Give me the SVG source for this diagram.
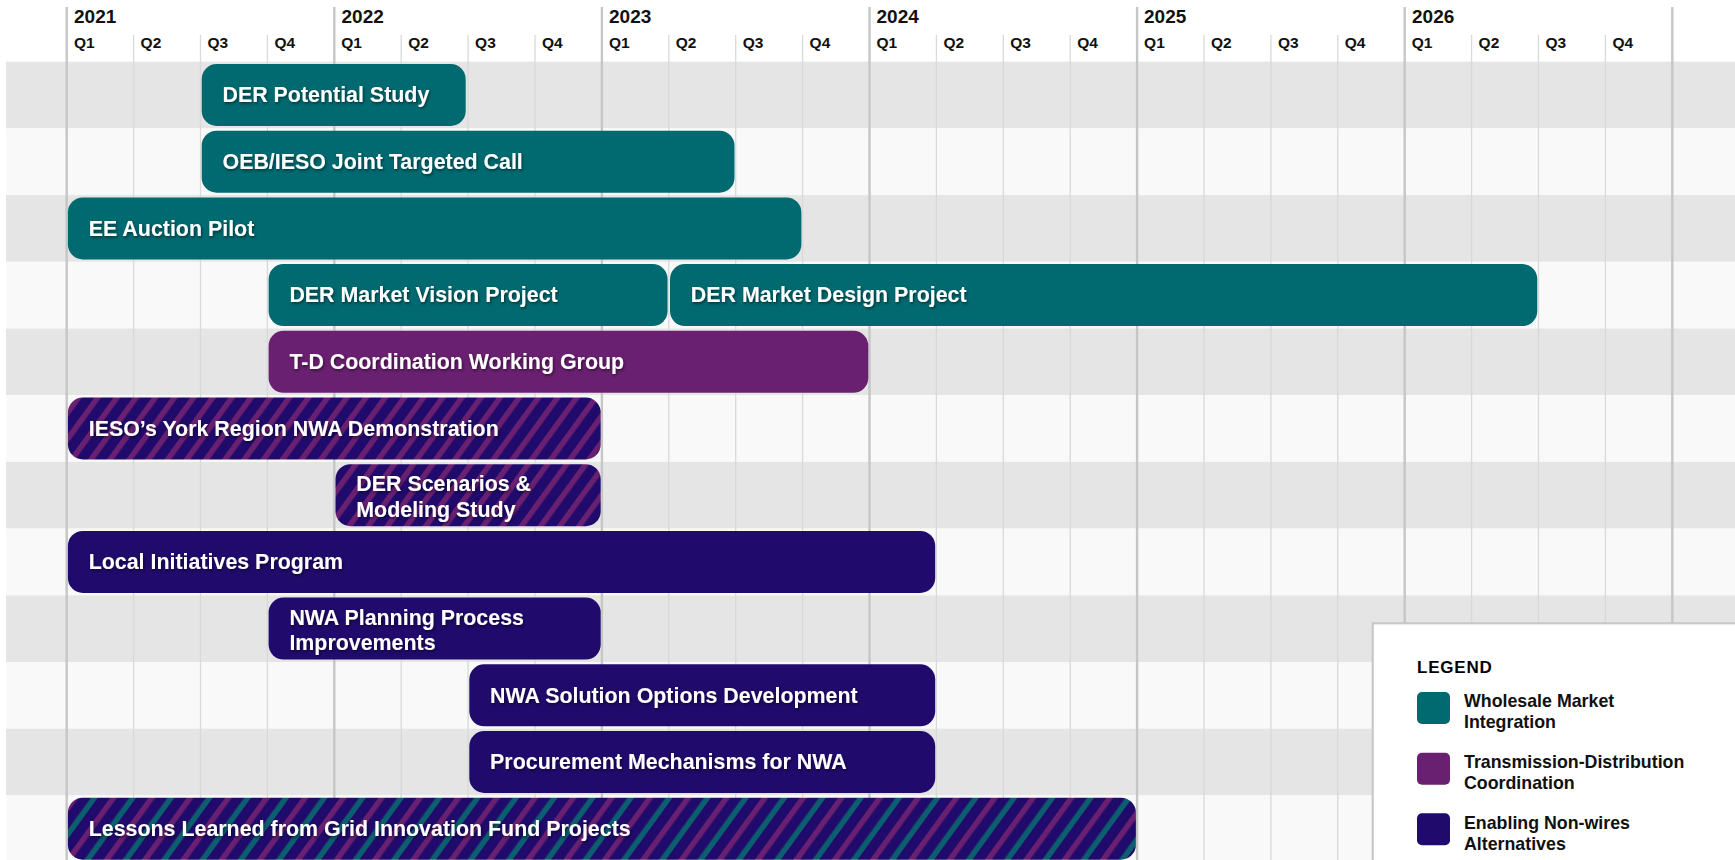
<svg xmlns="http://www.w3.org/2000/svg" width="1735" height="860" viewBox="0 0 1735 860">
  <defs>
    <style>
      .rowA { fill: #e5e5e5; }
      .rowB { fill: #f9f9f9; }
      .yl { stroke: #c6c6c6; stroke-width: 2.4; }
      .ql { stroke: #d9d9d9; stroke-width: 1.3; }
      .yt { font-family: "Liberation Sans", Arial, sans-serif; font-weight: bold; font-size: 19px; fill: #111; }
      .qt { font-family: "Liberation Sans", Arial, sans-serif; font-weight: bold; font-size: 15.5px; fill: #111; }
      .teal { fill: #006a70; }
      .purp { fill: #6a2070; }
      .indi { fill: #200a6c; }
      .bt { font-family: "Liberation Sans", Arial, sans-serif; font-weight: bold; font-size: 21.4px; fill: #ffffff; filter: url(#ts); }
      .lt { font-family: "Liberation Sans", Arial, sans-serif; font-weight: bold; font-size: 17.8px; fill: #111; }
      .lh { font-family: "Liberation Sans", Arial, sans-serif; font-weight: bold; font-size: 17px; letter-spacing: 0.8px; fill: #000; }
    </style>
    <filter id="ts" x="-5%" y="-30%" width="110%" height="160%">
      <feDropShadow dx="1" dy="1.5" stdDeviation="1.6" flood-color="#000" flood-opacity="0.55"/>
    </filter>
    <pattern id="stripe1" patternUnits="userSpaceOnUse" width="15.5" height="40" patternTransform="rotate(36)">
      <rect x="0" y="0" width="15.5" height="40" fill="#200a6c"/>
      <rect x="0" y="0" width="5.5" height="40" fill="#6a2070"/>
    </pattern>
    <pattern id="stripe2" patternUnits="userSpaceOnUse" width="31" height="40" patternTransform="rotate(36)">
      <rect x="0" y="0" width="31" height="40" fill="#200a6c"/>
      <rect x="0" y="0" width="5.5" height="40" fill="#6a2070"/>
      <rect x="15.5" y="0" width="5.5" height="40" fill="#0b5f6e"/>
    </pattern>
  </defs>

  <rect x="0" y="0" width="1735" height="860" fill="#ffffff"/>

  <g id="rows">
    <rect class="rowA" x="6" y="61.7" width="1729" height="66.7"/>
    <rect class="rowB" x="6" y="128.4" width="1729" height="66.7"/>
    <rect class="rowA" x="6" y="195.1" width="1729" height="66.7"/>
    <rect class="rowB" x="6" y="261.8" width="1729" height="66.7"/>
    <rect class="rowA" x="6" y="328.5" width="1729" height="66.7"/>
    <rect class="rowB" x="6" y="395.2" width="1729" height="66.7"/>
    <rect class="rowA" x="6" y="461.9" width="1729" height="66.7"/>
    <rect class="rowB" x="6" y="528.6" width="1729" height="66.7"/>
    <rect class="rowA" x="6" y="595.3" width="1729" height="66.7"/>
    <rect class="rowB" x="6" y="662.0" width="1729" height="66.7"/>
    <rect class="rowA" x="6" y="728.7" width="1729" height="66.7"/>
    <rect class="rowB" x="6" y="795.4" width="1729" height="66.7"/>
  </g>

  <g id="grid">
    <line class="ql" x1="133.6" y1="35" x2="133.6" y2="860"/>
    <line class="ql" x1="200.5" y1="35" x2="200.5" y2="860"/>
    <line class="ql" x1="267.4" y1="35" x2="267.4" y2="860"/>
    <line class="ql" x1="401.2" y1="35" x2="401.2" y2="860"/>
    <line class="ql" x1="468.1" y1="35" x2="468.1" y2="860"/>
    <line class="ql" x1="535.0" y1="35" x2="535.0" y2="860"/>
    <line class="ql" x1="668.8" y1="35" x2="668.8" y2="860"/>
    <line class="ql" x1="735.7" y1="35" x2="735.7" y2="860"/>
    <line class="ql" x1="802.6" y1="35" x2="802.6" y2="860"/>
    <line class="ql" x1="936.4" y1="35" x2="936.4" y2="860"/>
    <line class="ql" x1="1003.3" y1="35" x2="1003.3" y2="860"/>
    <line class="ql" x1="1070.2" y1="35" x2="1070.2" y2="860"/>
    <line class="ql" x1="1204.0" y1="35" x2="1204.0" y2="860"/>
    <line class="ql" x1="1270.9" y1="35" x2="1270.9" y2="860"/>
    <line class="ql" x1="1337.8" y1="35" x2="1337.8" y2="860"/>
    <line class="ql" x1="1471.6" y1="35" x2="1471.6" y2="860"/>
    <line class="ql" x1="1538.5" y1="35" x2="1538.5" y2="860"/>
    <line class="ql" x1="1605.4" y1="35" x2="1605.4" y2="860"/>
    <line class="yl" x1="66.7" y1="7" x2="66.7" y2="860"/>
    <line class="yl" x1="334.3" y1="7" x2="334.3" y2="860"/>
    <line class="yl" x1="601.9" y1="7" x2="601.9" y2="860"/>
    <line class="yl" x1="869.5" y1="7" x2="869.5" y2="860"/>
    <line class="yl" x1="1137.1" y1="7" x2="1137.1" y2="860"/>
    <line class="yl" x1="1404.7" y1="7" x2="1404.7" y2="860"/>
    <line class="yl" x1="1672.3" y1="7" x2="1672.3" y2="860"/>
  </g>

  <g id="header">
    <text class="yt" x="74" y="23">2021</text>
    <text class="yt" x="341.5" y="23">2022</text>
    <text class="yt" x="609" y="23">2023</text>
    <text class="yt" x="876.5" y="23">2024</text>
    <text class="yt" x="1144" y="23">2025</text>
    <text class="yt" x="1412" y="23">2026</text>
    <text class="qt" x="74" y="47.5">Q1</text>
    <text class="qt" x="140.6" y="47.5">Q2</text>
    <text class="qt" x="207.5" y="47.5">Q3</text>
    <text class="qt" x="274.4" y="47.5">Q4</text>
    <text class="qt" x="341.3" y="47.5">Q1</text>
    <text class="qt" x="408.2" y="47.5">Q2</text>
    <text class="qt" x="475.1" y="47.5">Q3</text>
    <text class="qt" x="542" y="47.5">Q4</text>
    <text class="qt" x="608.9" y="47.5">Q1</text>
    <text class="qt" x="675.8" y="47.5">Q2</text>
    <text class="qt" x="742.7" y="47.5">Q3</text>
    <text class="qt" x="809.6" y="47.5">Q4</text>
    <text class="qt" x="876.5" y="47.5">Q1</text>
    <text class="qt" x="943.4" y="47.5">Q2</text>
    <text class="qt" x="1010.3" y="47.5">Q3</text>
    <text class="qt" x="1077.2" y="47.5">Q4</text>
    <text class="qt" x="1144.1" y="47.5">Q1</text>
    <text class="qt" x="1211" y="47.5">Q2</text>
    <text class="qt" x="1277.9" y="47.5">Q3</text>
    <text class="qt" x="1344.8" y="47.5">Q4</text>
    <text class="qt" x="1411.7" y="47.5">Q1</text>
    <text class="qt" x="1478.6" y="47.5">Q2</text>
    <text class="qt" x="1545.5" y="47.5">Q3</text>
    <text class="qt" x="1612.4" y="47.5">Q4</text>
  </g>

  <g id="bar-der-potential">
    <rect class="teal" x="201.7" y="64" width="264" height="62" rx="15"/>
    <text class="bt" x="222.5" y="102.3">DER Potential Study</text>
  </g>
  <g id="bar-oeb-ieso">
    <rect class="teal" x="201.7" y="130.7" width="532.8" height="62" rx="15"/>
    <text class="bt" x="222.5" y="169">OEB/IESO Joint Targeted Call</text>
  </g>
  <g id="bar-ee-auction">
    <rect class="teal" x="67.9" y="197.4" width="733.5" height="62" rx="15"/>
    <text class="bt" x="88.7" y="235.7">EE Auction Pilot</text>
  </g>
  <g id="bar-der-vision">
    <rect class="teal" x="268.6" y="264.1" width="399" height="62" rx="15"/>
    <text class="bt" x="289.4" y="302.4">DER Market Vision Project</text>
  </g>
  <g id="bar-der-design">
    <rect class="teal" x="670" y="264.1" width="867.3" height="62" rx="15"/>
    <text class="bt" x="690.8" y="302.4">DER Market Design Project</text>
  </g>
  <g id="bar-td-coord">
    <rect class="purp" x="268.6" y="330.8" width="599.7" height="62" rx="15"/>
    <text class="bt" x="289.4" y="369.1">T-D Coordination Working Group</text>
  </g>
  <g id="bar-york">
    <rect x="67.9" y="397.5" width="532.8" height="62" rx="15" fill="url(#stripe1)"/>
    <text class="bt" x="88.7" y="435.8">IESO’s York Region NWA Demonstration</text>
  </g>
  <g id="bar-der-scenarios">
    <rect x="335.5" y="464.2" width="265.2" height="62" rx="15" fill="url(#stripe1)"/>
    <text class="bt" x="356.3" y="491.3">DER Scenarios &amp;</text>
    <text class="bt" x="356.3" y="517">Modeling Study</text>
  </g>
  <g id="bar-local">
    <rect class="indi" x="67.9" y="530.9" width="867.3" height="62" rx="15"/>
    <text class="bt" x="88.7" y="569.2">Local Initiatives Program</text>
  </g>
  <g id="bar-nwa-planning">
    <rect class="indi" x="268.6" y="597.6" width="332.1" height="62" rx="15"/>
    <text class="bt" x="289.4" y="624.7">NWA Planning Process</text>
    <text class="bt" x="289.4" y="650.4">Improvements</text>
  </g>
  <g id="bar-nwa-solution">
    <rect class="indi" x="469.3" y="664.3" width="465.9" height="62" rx="15"/>
    <text class="bt" x="490.1" y="702.6">NWA Solution Options Development</text>
  </g>
  <g id="bar-procurement">
    <rect class="indi" x="469.3" y="731" width="465.9" height="62" rx="15"/>
    <text class="bt" x="490.1" y="769.3">Procurement Mechanisms for NWA</text>
  </g>
  <g id="bar-lessons">
    <rect x="67.9" y="797.7" width="1068" height="62" rx="15" fill="url(#stripe2)"/>
    <text class="bt" x="88.7" y="836">Lessons Learned from Grid Innovation Fund Projects</text>
  </g>

  <g id="legend">
    <rect x="1372.7" y="623.3" width="420" height="300" fill="#ffffff" stroke="#c8c8c8" stroke-width="2.2"/>
    <text class="lh" x="1417" y="673">LEGEND</text>
    <rect class="teal" x="1417" y="692" width="33" height="32" rx="5"/>
    <text class="lt" x="1464" y="707.3">Wholesale Market</text>
    <text class="lt" x="1464" y="728.3">Integration</text>
    <rect class="purp" x="1417" y="752.7" width="33" height="32" rx="5"/>
    <text class="lt" x="1464" y="767.7">Transmission-Distribution</text>
    <text class="lt" x="1464" y="789">Coordination</text>
    <rect class="indi" x="1417" y="813.3" width="33" height="32" rx="5"/>
    <text class="lt" x="1464" y="828.7">Enabling Non-wires</text>
    <text class="lt" x="1464" y="850">Alternatives</text>
  </g>
</svg>
